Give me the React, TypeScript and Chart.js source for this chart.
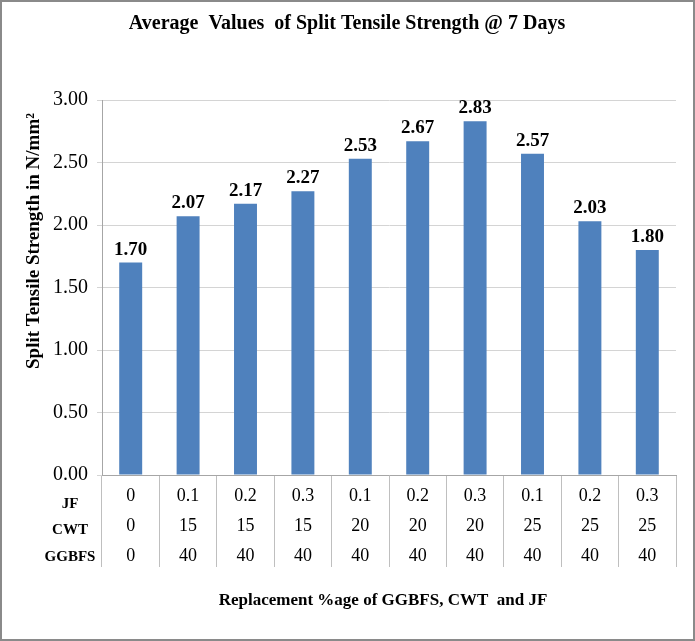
import { useEffect, useRef } from 'react';
import { Chart, registerables } from 'chart.js';

Chart.register(...registerables);

const titleText = 'Average  Values  of Split Tensile Strength @ 7 Days';
const yTitleText = 'Split Tensile Strength in N/mm\u00B2';
const xTitleText = 'Replacement %age of GGBFS, CWT  and JF';
const rowHeaders = ['JF', 'CWT', 'GGBFS'];
const jfValues = ['0', '0.1', '0.2', '0.3', '0.1', '0.2', '0.3', '0.1', '0.2', '0.3'];
const cwtValues = ['0', '15', '15', '15', '20', '20', '20', '25', '25', '25'];
const ggbfsValues = ['0', '40', '40', '40', '40', '40', '40', '40', '40', '40'];
const strength = [1.7, 2.07, 2.17, 2.27, 2.53, 2.67, 2.83, 2.57, 2.03, 1.8];
const yMin = 0;
const yMax = 3;
const yStep = 0.5;

const SERIF = "'Liberation Serif', 'Times New Roman', serif";

const textPlugin = {
  id: 'textPlugin',
  afterDraw(chart: any) {
    const ctx = chart.ctx as CanvasRenderingContext2D;
    const xScale = chart.scales.x;
    ctx.save();
    ctx.fillStyle = '#000';
    ctx.textAlign = 'center';
    ctx.textBaseline = 'middle';

    ctx.font = `bold 20px ${SERIF}`;
    ctx.fillText(titleText, 345, 22);

    const meta = chart.getDatasetMeta(0);
    ctx.font = `bold 19px ${SERIF}`;
    ctx.textBaseline = 'alphabetic';
    meta.data.forEach((bar: any, i: number) => {
      ctx.fillText(strength[i].toFixed(2), bar.x, bar.y - 8);
    });

    ctx.textBaseline = 'middle';
    ctx.font = `bold 15px ${SERIF}`;
    const rowOffsets = [29, 55, 82];
    rowHeaders.forEach((h, i) => {
      ctx.fillText(h, 68, xScale.top + rowOffsets[i]);
    });

    ctx.font = `bold 17px ${SERIF}`;
    ctx.fillText(xTitleText, 381, 599);

    ctx.translate(32, 239);
    ctx.rotate(-Math.PI / 2);
    ctx.font = `bold 19px ${SERIF}`;
    ctx.fillText(yTitleText, 0, 0);
    ctx.restore();
  },
};

export default function App() {
  const ref = useRef<HTMLCanvasElement | null>(null);

  useEffect(() => {
    if (!ref.current) return;
    const labels = jfValues.map((v, i) => [v, cwtValues[i], ggbfsValues[i]]);
    const chart = new Chart(ref.current, {
      type: 'bar',
      data: {
        labels,
        datasets: [
          {
            data: strength,
            backgroundColor: '#4F81BD',
            borderWidth: 0,
            barPercentage: 0.4,
            categoryPercentage: 1.0,
          },
        ],
      },
      options: {
        animation: false,
        responsive: false,
        devicePixelRatio: 1,
        layout: { padding: { top: 98, left: 0, right: 17, bottom: 0 } },
        plugins: {
          legend: { display: false },
          title: { display: false },
          tooltip: { enabled: false },
        },
        scales: {
          x: {
            type: 'category',
            offset: true,
            afterFit: (s: any) => {
              s.height = 164;
            },
            grid: {
              offset: true,
              drawOnChartArea: false,
              drawTicks: true,
              tickLength: 92,
              color: '#bfbfbf',
              lineWidth: 1,
            },
            border: { display: true, color: '#a6a6a6', width: 1 },
            ticks: {
              color: '#000',
              font: { family: SERIF, size: 18, lineHeight: 30 / 18 },
              padding: -86,
              maxRotation: 0,
              autoSkip: false,
            },
          },
          y: {
            min: yMin,
            max: yMax,
            afterFit: (s: any) => {
              s.width = 100;
            },
            grid: {
              color: '#d4d4d4',
              lineWidth: 1,
              drawTicks: true,
              tickLength: 5,
            },
            border: { display: true, color: '#a6a6a6', width: 1 },
            ticks: {
              stepSize: yStep,
              color: '#000',
              padding: 9,
              font: { family: SERIF, size: 20 },
              callback: (v: any) => Number(v).toFixed(2),
            },
          },
        },
      },
      plugins: [textPlugin],
    });
    return () => chart.destroy();
  }, []);

  return (
    <div
      style={{
        position: 'fixed',
        left: 0,
        top: 0,
        width: 695,
        height: 641,
        boxSizing: 'border-box',
        border: '2px solid #8a8a8a',
        background: '#fff',
      }}
    >
      <canvas ref={ref} width={691} height={637} style={{ display: 'block', width: 691, height: 637 }} />
    </div>
  );
}
